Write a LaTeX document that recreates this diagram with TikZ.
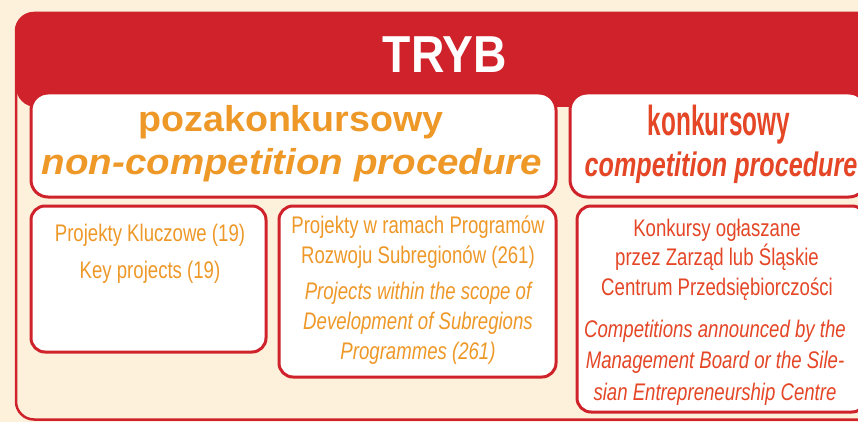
\documentclass[tikz,border=0pt]{standalone}
\usepackage{fontspec}
\setmainfont{Liberation Sans}
\newfontfamily\fTryb{Liberation Sans}[FakeStretch=0.89]
\newfontfamily\fPoz{Liberation Sans}[FakeStretch=1.045]
\newfontfamily\fPozI{Liberation Sans}[FakeStretch=1.07]
\newfontfamily\fKonA{Liberation Sans}[FakeStretch=0.58]
\newfontfamily\fKonB{Liberation Sans}[FakeStretch=0.74]
\newfontfamily\fSm{Liberation Sans}[FakeStretch=0.775]
\definecolor{cream}{RGB}{253,241,220}
\definecolor{tred}{RGB}{207,34,42}
\definecolor{torange}{RGB}{238,152,40}
\definecolor{tred2}{RGB}{228,70,38}
\tikzset{
  bigbox/.style={draw=tred, line width=3pt, fill=white, rounded corners=17pt},
  smallbox/.style={draw=tred, line width=3pt, fill=white, rounded corners=14pt},
  txt/.style={anchor=base, inner sep=0pt},
  trybtxt/.style={txt, text=white, font=\fTryb\bfseries\fontsize{52}{60}\selectfont},
  poztxt/.style={txt, text=torange, font=\fPoz\bfseries\fontsize{36}{40}\selectfont},
  pozittxt/.style={txt, text=torange, font=\fPozI\bfseries\itshape\fontsize{36}{40}\selectfont},
  kontxt/.style={txt, text=tred2, font=\fKonA\bfseries\fontsize{42}{48}\selectfont},
  konittxt/.style={txt, text=tred2, font=\fKonB\bfseries\itshape\fontsize{34}{40}\selectfont},
  otxt/.style={txt, text=torange, font=\fSm\fontsize{24}{30}\selectfont},
  oittxt/.style={txt, text=torange, font=\fSm\itshape\fontsize{24}{30}\selectfont},
  rtxt/.style={txt, text=tred2, font=\fSm\fontsize{24}{30}\selectfont},
  rittxt/.style={txt, text=tred2, font=\fSm\itshape\fontsize{24}{30}\selectfont},
}
\begin{document}
\begin{tikzpicture}[x=1pt, y=-1pt]
\useasboundingbox (0,0) rectangle (858,422);
\clip (0,0) rectangle (858,422);
\fill[cream] (0,0) rectangle (858,422);
% outer frame
\draw[tred, line width=2.5pt, fill=cream, rounded corners=18pt] (16,13) rectangle (920,419.5);
% header band
\fill[tred, rounded corners=20pt] (16,13) rectangle (920,107);
% heading boxes
\draw[bigbox] (31,93) rectangle (556,197);
\draw[bigbox] (570,93) rectangle (866,197);
% content boxes
\draw[smallbox] (31,206) rectangle (266,352);
\draw[smallbox] (279,206) rectangle (556,377);
\draw[smallbox] (577,206) rectangle (866,412);
% texts
\node[trybtxt] (tryb) at (445,73) {TRYB};
\node[poztxt] (poz1) at (291,132) {pozakonkursowy};
\node[pozittxt] (poz2) at (292,175) {non-competition procedure};
\node[kontxt] (kon1) at (719,136) {konkursowy};
\node[konittxt] (kon2) at (721,176) {competition procedure};
\node[otxt] (a1) at (150,241) {Projekty Kluczowe (19)};
\node[otxt] (a2) at (150,278) {Key projects (19)};
\node[otxt] (b1) at (418,233) {Projekty w ramach Programów};
\node[otxt] (b2) at (418,263) {Rozwoju Subregionów (261)};
\node[oittxt] (b3) at (418,299) {Projects within the scope of};
\node[oittxt] (b4) at (418,329) {Development of Subregions};
\node[oittxt] (b5) at (418,359) {Programmes (261)};
\node[rtxt] (c1) at (717,236) {Konkursy ogłaszane};
\node[rtxt] (c2) at (717,265) {przez Zarząd lub Śląskie};
\node[rtxt] (c3) at (717,295) {Centrum Przedsiębiorczości};
\node[rittxt] (c4) at (715,337) {Competitions announced by the};
\node[rittxt] (c5) at (715,368) {Management Board or the Sile-};
\node[rittxt] (c6) at (715,400) {sian Entrepreneurship Centre};
\end{tikzpicture}
\end{document}
